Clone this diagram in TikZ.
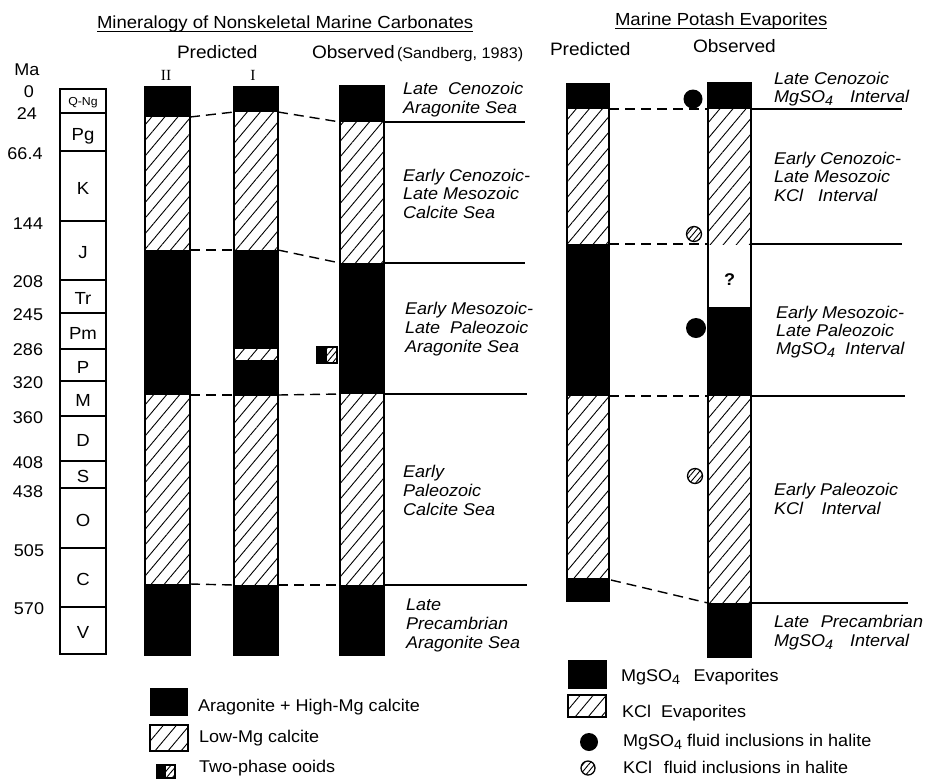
\documentclass[tikz,border=0pt]{standalone}
\usepackage{fontspec}
\setmainfont{Liberation Sans}[FakeStretch=1.06]
\newfontfamily\romanfont{Liberation Serif}
\usetikzlibrary{patterns.meta}
\newcommand\subfour{\raisebox{-3.5pt}{\fontsize{13.5}{14}\selectfont 4}}
\tikzset{
  every node/.style={inner sep=0pt, outer sep=0pt},
  txt/.style={anchor=base west, font=\fontsize{17}{19}\selectfont},
  hdr/.style={anchor=base west, font=\fontsize{18}{20}\selectfont},
  lbl/.style={anchor=base west, font=\fontsize{17}{19}\selectfont\itshape},
  ma/.style={anchor=base, font=\fontsize{17}{19}\selectfont},
  era/.style={anchor=base, font=\fontsize{17.5}{19}\selectfont},
  hatched/.style={pattern={Lines[angle=50,distance=10pt,line width=0.9pt]}},
  smallhatch/.style={pattern={Lines[angle=50,distance=4.5pt,line width=0.9pt]}},
  colframe/.style={draw=black, line width=1.4pt},
  link/.style={draw=black, line width=1.4pt, dash pattern=on 10pt off 6pt},
  bound/.style={draw=black, line width=1.4pt},
}
\newcommand\blk[4]{\fill[black] (#1,#2) rectangle (#3,#4);}
\newcommand\hch[4]{\path[hatched] (#1,#2) rectangle (#3,#4);}
\begin{document}
\begin{tikzpicture}[x=1pt,y=-1pt]
\useasboundingbox (0,0) rectangle (928,780);

% ---------- titles ----------
\node[anchor=base west, font=\fontsize{17.5}{19}\selectfont] (t1) at (97,28) {Mineralogy of Nonskeletal Marine Carbonates};
\draw[line width=1pt] ([yshift=-3.5pt]t1.base west) -- ([yshift=-3.5pt]t1.base east);
\node[anchor=base west, font=\fontsize{17.5}{19}\selectfont] (t2) at (615,25) {Marine Potash Evaporites};
\draw[line width=1pt] ([yshift=-3.5pt]t2.base west) -- ([yshift=-3.5pt]t2.base east);

\node[hdr] (h1) at (177,58) {Predicted};
\node[anchor=base, font=\romanfont\fontsize{15.5}{17}\selectfont] (h2) at (166,80) {II};
\node[anchor=base, font=\romanfont\fontsize{15.5}{17}\selectfont] (h3) at (253,80) {I};
\node[hdr] (h4) at (312,58) {Observed};
\node[anchor=base west, font=\fontsize{15.3}{17}\selectfont] (h5) at (397,58) {(Sandberg, 1983)};
\node[hdr] (h6) at (550,55) {Predicted};
\node[hdr] (h7) at (693,52) {Observed};

% ---------- Ma scale ----------
\node[ma] (m0) at (27,75) {Ma};
\node[ma] (m1) at (29,97) {0};
\node[ma] (m2) at (27,119) {24};
\node[ma] (m3) at (25,159) {66.4};
\node[ma] (m4) at (28,229) {144};
\node[ma] (m5) at (28,287) {208};
\node[ma] (m6) at (28,320) {245};
\node[ma] (m7) at (28,355) {286};
\node[ma] (m8) at (28,388) {320};
\node[ma] (m9) at (28,423) {360};
\node[ma] (m10) at (28,468) {408};
\node[ma] (m11) at (28,497) {438};
\node[ma] (m12) at (29,556) {505};
\node[ma] (m13) at (29,614) {570};

% ---------- geologic periods ----------
\draw[line width=1.2pt] (60,89) rectangle (106,654);
\foreach \yy in {113,151,221,280,313,349,381,416,461,488,548,607}
  \draw[line width=1.2pt] (60,\yy) -- (106,\yy);
\node[anchor=base, font=\fontsize{11.6}{12}\selectfont] (p1) at (83,105) {Q-Ng};
\node[era] (p2) at (83,140) {Pg};
\node[era] (p3) at (83,194) {K};
\node[era] (p4) at (83,258) {J};
\node[era] (p5) at (83,304) {Tr};
\node[era] (p6) at (83,339) {Pm};
\node[era] (p7) at (83,373) {P};
\node[era] (p8) at (83,406) {M};
\node[era] (p9) at (83,446) {D};
\node[era] (p10) at (83,482) {S};
\node[era] (p11) at (83,526) {O};
\node[era] (p12) at (83,585) {C};
\node[era] (p13) at (83,638) {V};

% ---------- carbonate columns ----------
% II
\blk{145}{87}{190}{117}
\hch{145}{117}{190}{250}
\blk{145}{250}{190}{395}
\hch{145}{395}{190}{584}
\blk{145}{584}{190}{655}
\draw[colframe] (145,87) rectangle (190,655);
% I
\blk{234}{87}{278}{112}
\hch{234}{112}{278}{250}
\blk{234}{250}{278}{349}
\hch{234}{349}{278}{360}
\blk{234}{360}{278}{396}
\hch{234}{396}{278}{585}
\blk{234}{585}{278}{655}
\draw[colframe] (234,87) rectangle (278,655);
% Observed
\blk{340}{86}{384}{122}
\hch{340}{122}{384}{263}
\blk{340}{263}{384}{394}
\hch{340}{394}{384}{585}
\blk{340}{585}{384}{655}
\draw[colframe] (340,86) rectangle (384,655);

% boundary connectors (left)
\coordinate (a1) at (190,117); \coordinate (a2) at (234,112);
\coordinate (a3) at (278,112); \coordinate (a4) at (340,122);
\coordinate (a5) at (384,122); \coordinate (a6) at (525,122);
\draw[link] (a1) -- (a2); \draw[link] (a3) -- (a4); \draw[bound] (a5) -- (a6);
\coordinate (b1) at (190,250); \coordinate (b2) at (234,250);
\coordinate (b3) at (278,250); \coordinate (b4) at (340,263);
\coordinate (b5) at (384,263); \coordinate (b6) at (525,263);
\draw[link] (b1) -- (b2); \draw[link] (b3) -- (b4); \draw[bound] (b5) -- (b6);
\coordinate (c1) at (190,395); \coordinate (c2) at (234,395);
\coordinate (c3) at (278,395); \coordinate (c4) at (340,394);
\coordinate (c5) at (384,394); \coordinate (c6) at (527,394);
\draw[link] (c1) -- (c2); \draw[link] (c3) -- (c4); \draw[bound] (c5) -- (c6);
\coordinate (d1) at (190,584); \coordinate (d2) at (234,585);
\coordinate (d3) at (278,585); \coordinate (d4) at (340,585);
\coordinate (d5) at (384,585); \coordinate (d6) at (527,585);
\draw[link] (d1) -- (d2); \draw[link] (d3) -- (d4); \draw[bound] (d5) -- (d6);

% two-phase ooid marker
\path[smallhatch] (327,347) rectangle (337,363);
\fill[black] (317,347) rectangle (327,363);
\draw[line width=1.2pt] (317,347) rectangle (337,363);

% left interval labels
\node[lbl] (l1) at (403,94) {Late\hspace{0.3em} Cenozoic};
\node[lbl] (l2) at (403,113) {Aragonite Sea};
\node[lbl] (l3) at (403,181) {Early Cenozoic-};
\node[lbl] (l4) at (403,199) {Late Mesozoic};
\node[lbl] (l5) at (403,218) {Calcite Sea};
\node[lbl] (l6) at (405,314) {Early Mesozoic-};
\node[lbl] (l7) at (405,333) {Late\hspace{0.3em} Paleozoic};
\node[lbl] (l8) at (405,352) {Aragonite Sea};
\node[lbl] (l9) at (403,477) {Early};
\node[lbl] (l10) at (403,496) {Paleozoic};
\node[lbl] (l11) at (403,515) {Calcite Sea};
\node[lbl] (l12) at (406,610) {Late};
\node[lbl] (l13) at (406,629) {Precambrian};
\node[lbl] (l14) at (406,648) {Aragonite Sea};

% ---------- potash columns ----------
\blk{567}{84}{609}{109}
\hch{567}{109}{609}{244}
\blk{567}{244}{609}{396}
\hch{567}{396}{609}{578}
\blk{567}{578}{609}{601}
\draw[colframe] (567,84) rectangle (609,601);

\blk{708}{83}{751}{109}
\hch{708}{109}{751}{244}
\blk{708}{308}{751}{396}
\hch{708}{396}{751}{603}
\blk{708}{603}{751}{657}
\draw[colframe] (708,83) rectangle (751,657);
\draw[line width=1.2pt] (708,308) -- (751,308);
\node[anchor=center, font=\fontsize{17}{19}\selectfont\bfseries] (q) at (729.5,280) {?};

% boundary connectors (right)
\coordinate (e1) at (609,109); \coordinate (e2) at (708,109);
\coordinate (e3) at (751,109); \coordinate (e4) at (902,109);
\draw[link] (e1) -- (e2); \draw[bound] (e3) -- (e4);
\coordinate (f1) at (609,244); \coordinate (f2) at (708,244);
\coordinate (f3) at (751,244); \coordinate (f4) at (902,244);
\draw[link] (f1) -- (f2); \draw[bound] (f3) -- (f4);
\coordinate (g1) at (609,396); \coordinate (g2) at (708,396);
\coordinate (g3) at (751,396); \coordinate (g4) at (905,396);
\draw[link] (g1) -- (g2); \draw[bound] (g3) -- (g4);
\coordinate (k1) at (611,580); \coordinate (k2) at (708,603);
\coordinate (k3) at (751,603); \coordinate (k4) at (908,603);
\draw[link] (k1) -- (k2); \draw[bound] (k3) -- (k4);

% fluid inclusion markers
\fill[black] (693,99) circle (9.5);
\path[smallhatch] (694,234) circle (7.5);
\draw[line width=1.3pt] (694,234) circle (7.5);
\fill[black] (696,328) circle (10);
\path[smallhatch] (695,476) circle (7.5);
\draw[line width=1.3pt] (695,476) circle (7.5);

% right interval labels
\node[lbl] (r1) at (774,84) {Late Cenozoic};
\node[lbl] (r2) at (774,102) {MgSO\subfour\hspace{1em}Interval};
\node[lbl] (r3) at (774,164) {Early Cenozoic-};
\node[lbl] (r4) at (774,182) {Late Mesozoic};
\node[lbl] (r5) at (774,201) {KCl\hspace{0.6em} Interval};
\node[lbl] (r6) at (776,318) {Early Mesozoic-};
\node[lbl] (r7) at (776,336) {Late Paleozoic};
\node[lbl] (r8) at (776,354) {MgSO\subfour\hspace{0.6em}Interval};
\node[lbl] (r9) at (774,495) {Early Paleozoic};
\node[lbl] (r10) at (774,514) {KCl\hspace{0.8em} Interval};
\node[lbl] (r11) at (774,627) {Late\hspace{0.4em} Precambrian};
\node[lbl] (r12) at (774,646) {MgSO\subfour\hspace{1em}Interval};

% ---------- legends ----------
\fill[black] (150,688) rectangle (188,716);
\node[txt] (lg1) at (198,711) {Aragonite + High-Mg calcite};
\path[hatched] (150,725) rectangle (188,751);
\draw[line width=1.2pt] (150,725) rectangle (188,751);
\node[txt] (lg2) at (199,742) {Low-Mg calcite};
\path[smallhatch] (166,765) rectangle (175,778);
\fill[black] (157,765) rectangle (166,778);
\draw[line width=1.2pt] (157,765) rectangle (175,778);
\node[txt] (lg3) at (199,772) {Two-phase ooids};

\fill[black] (568,660) rectangle (607,689);
\node[txt] (lg4) at (621,681) {MgSO\subfour\hspace{0.5em} Evaporites};
\path[hatched] (568,695) rectangle (606,717);
\draw[line width=1.2pt] (568,695) rectangle (606,717);
\node[txt] (lg5) at (622,717) {KCl\hspace{0.3em} Evaporites};
\fill[black] (589,742) circle (9);
\node[txt] (lg6) at (623,746) {MgSO\subfour\ fluid inclusions in halite};
\path[smallhatch] (588,768) circle (7);
\draw[line width=1.3pt] (588,768) circle (7);
\node[txt] (lg7) at (623,773) {KCl\hspace{0.4em} fluid inclusions in halite};
\end{tikzpicture}
\end{document}
